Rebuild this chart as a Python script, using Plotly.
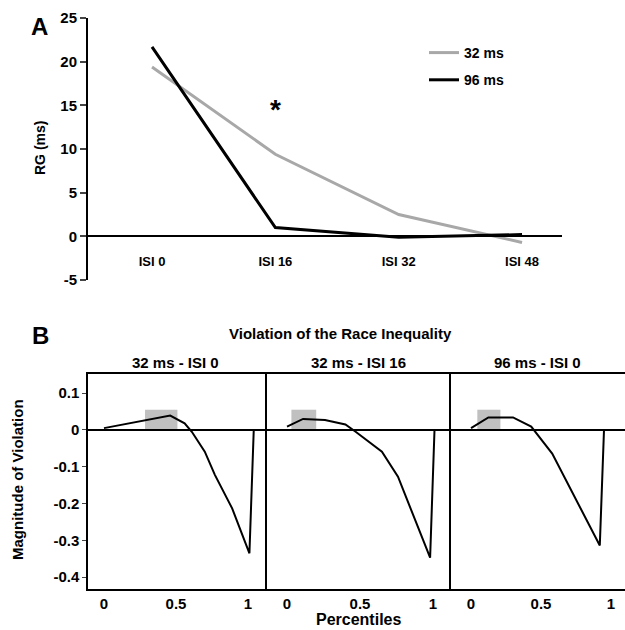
import plotly.graph_objects as go

W, H = 625, 630

# panel A data
isi = ["ISI 0", "ISI 16", "ISI 32", "ISI 48"]
rg_32 = [19.4, 9.4, 2.5, -0.7]
rg_96 = [21.7, 1.0, -0.1, 0.2]

# panel B data (percentile, violation)
p1_x = [0.0, 0.46, 0.56, 0.61, 0.70, 0.77, 0.89, 1.01, 1.04]
p1_y = [0.005, 0.039, 0.018, -0.005, -0.059, -0.122, -0.213, -0.335, 0.0]
p2_x = [0.0, 0.11, 0.26, 0.40, 0.47, 0.65, 0.76, 0.98, 1.01]
p2_y = [0.009, 0.030, 0.027, 0.015, -0.005, -0.059, -0.127, -0.347, 0.0]
p3_x = [0.0, 0.124, 0.30, 0.43, 0.58, 0.92, 0.95]
p3_y = [0.005, 0.034, 0.034, 0.009, -0.064, -0.314, 0.0]
box_x0 = [0.285, 0.03, 0.045]
box_x1 = [0.51, 0.20, 0.21]
box_top = 0.055
panel_titles = ["32 ms - ISI 0", "32 ms - ISI 16", "96 ms - ISI 0"]

FONT = "Arial"
def px(x):
    return x / W
def py(y):
    return 1 - y / H

fig = go.Figure()

# ---- panel A
fig.add_trace(go.Scatter(x=isi, y=rg_32, mode="lines", name="32 ms",
                         line=dict(color="#a8a8a8", width=3), legendgroup="a",
                         xaxis="x", yaxis="y"))
fig.add_trace(go.Scatter(x=isi, y=rg_96, mode="lines", name="96 ms",
                         line=dict(color="black", width=3), legendgroup="b",
                         xaxis="x", yaxis="y"))

ya_dom = [py(280), py(18)]
ya_rng = [-5, 25]
zero_pos = ya_dom[0] + (0 - ya_rng[0]) / (ya_rng[1] - ya_rng[0]) * (ya_dom[1] - ya_dom[0])

# ---- panel B
panels = [(p1_x, p1_y), (p2_x, p2_y), (p3_x, p3_y)]
b_dom = [[px(88), px(267)], [px(267), px(451)], [px(451), 1.0]]
b_rng = [[-0.111, 1.132], [-0.137, 1.123], [-0.143, 1.10]]
yb_dom = [py(589), py(374)]
yb_rng = [-0.432, 0.152]

shapes = []
for i, (xs, ys) in enumerate(panels):
    n = i + 2
    fig.add_trace(go.Scatter(x=xs, y=ys, mode="lines", showlegend=False,
                             line=dict(color="black", width=2),
                             xaxis=f"x{n}", yaxis=f"y{n}"))
    shapes.append(dict(type="rect", xref=f"x{n}", yref=f"y{n}",
                       x0=box_x0[i], x1=box_x1[i], y0=0, y1=box_top,
                       fillcolor="#c0c0c0", line=dict(width=0), layer="below"))

layout = dict(
    width=W, height=H,
    margin=dict(l=0, r=0, t=0, b=0, autoexpand=False),
    paper_bgcolor="white", plot_bgcolor="white",
    font=dict(family=FONT, color="black"),
    showlegend=True,
    legend=dict(x=px(424), y=py(37), xanchor="left", yanchor="top",
                font=dict(family=FONT, size=14, weight="bold"),
                tracegroupgap=6, traceorder="grouped", bgcolor="rgba(0,0,0,0)"),
    xaxis=dict(domain=[px(88), px(562)], range=[-0.519, 3.324], type="category",
               anchor="free", position=zero_pos, showline=True, linecolor="black",
               linewidth=2, ticks="", ticklabelstandoff=13, showgrid=False,
               zeroline=False, tickfont=dict(family=FONT, size=13, weight="bold")),
    yaxis=dict(domain=ya_dom, range=ya_rng, anchor="x", showline=True,
               linecolor="black", linewidth=2, ticks="outside", ticklen=6,
               tickwidth=2, tickvals=[-5, 0, 5, 10, 15, 20, 25],
               ticktext=["-5", "0", "5", "10", "15", "20", "25"],
               showgrid=False, zeroline=False,
               tickfont=dict(family=FONT, size=15, color="black", weight="bold")),
    shapes=shapes,
)

for i in range(3):
    n = i + 2
    layout[f"xaxis{n}"] = dict(domain=b_dom[i], range=b_rng[i], anchor=f"y{n}",
                               showline=True, mirror=True, linecolor="black",
                               linewidth=1.5, ticks="", showgrid=False, zeroline=False,
                               tickvals=[0, 0.5, 1], ticktext=["0", "0.5", "1"],
                               ticklabelstandoff=0,
                               tickfont=dict(family=FONT, size=15, weight="bold"))
    layout[f"yaxis{n}"] = dict(domain=yb_dom, range=yb_rng, anchor=f"x{n}",
                               showline=True, linecolor="black", linewidth=1.5,
                               showgrid=False, zeroline=True, zerolinecolor="black",
                               zerolinewidth=1.5,
                               tickvals=[-0.4, -0.3, -0.2, -0.1, 0, 0.1],
                               ticktext=["-0.4", "-0.3", "-0.2", "-0.1", "0", "0.1"],
                               ticks="outside" if i == 0 else "", ticklen=4,
                               showticklabels=(i == 0),
                               tickfont=dict(family=FONT, size=15, color="black",
                                             weight="bold"))

fig.update_layout(**layout)

ann = [
    dict(text="A", x=px(39), y=py(27), font=dict(size=24, weight="bold")),
    dict(text="B", x=px(40), y=py(335), font=dict(size=24, weight="bold")),
    dict(text="RG (ms)", x=px(40), y=py(148), textangle=-90,
         font=dict(size=14, weight="bold")),
    dict(text="Violation of the Race Inequality", x=px(340), y=py(333),
         font=dict(size=15, weight="bold")),
    dict(text="Magnitude of Violation", x=px(17), y=py(480), textangle=-90,
         font=dict(size=15, weight="bold")),
    dict(text="Percentiles", x=px(358), y=py(619), font=dict(size=16, weight="bold")),
]
for i, c in enumerate([175, 358, 537]):
    ann.append(dict(text=panel_titles[i], x=px(c), y=py(362),
                    font=dict(size=15, weight="bold")))
for a in ann:
    a.update(xref="paper", yref="paper", showarrow=False,
             xanchor="center", yanchor="middle")
    a["font"].update(family=FONT, color="black")
    fig.add_annotation(**a)

fig.add_annotation(text="*", x="ISI 16", y=14.5, xref="x", yref="y", showarrow=False,
                   font=dict(family=FONT, size=28, color="black", weight="bold"))

# drop the default page margin so the figure sits at the window corner
fig.write_html("out.html", config={"displayModeBar": False},
               post_script="document.body.style.margin='0';document.body.style.overflow='hidden';")
